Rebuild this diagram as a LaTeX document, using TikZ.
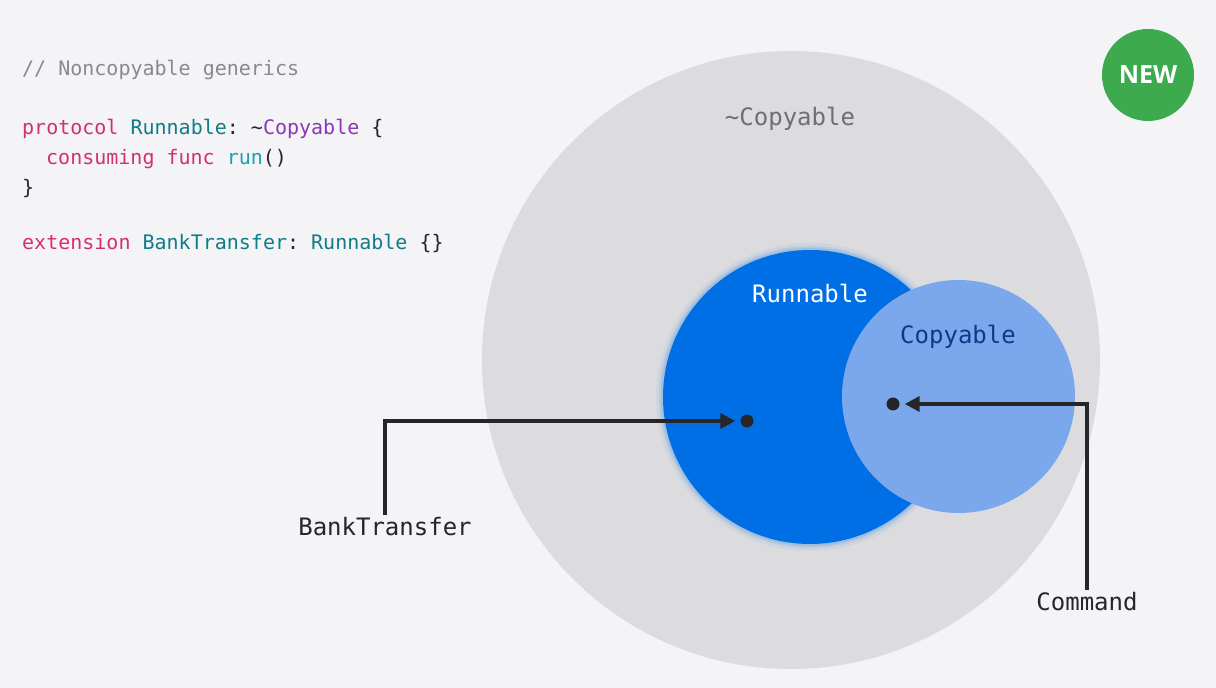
\documentclass[tikz,border=0pt]{standalone}
\usepackage{fontspec}
\setmonofont{DejaVu Sans Mono}
\setsansfont{Open Sans}
\usetikzlibrary{arrows.meta,positioning}
\newcommand{\slidewidth}{1216pt}
\newcommand{\slideheight}{688pt}
\definecolor{slidebg}{HTML}{F4F4F6}
\definecolor{setgray}{HTML}{DCDCDE}
\definecolor{runblue}{HTML}{006FE6}
\definecolor{copyblue}{HTML}{7BA8EC}
\definecolor{copynavy}{HTML}{0B3A8A}
\definecolor{labelgray}{HTML}{6E6E73}
\definecolor{inkcolor}{HTML}{262628}
\definecolor{newgreen}{HTML}{3DAA4D}
\definecolor{kwcolor}{HTML}{D3306E}
\definecolor{typecolor}{HTML}{0E7D88}
\definecolor{protocolcolor}{HTML}{8B36B6}
\definecolor{callcolor}{HTML}{17A0B6}
\definecolor{commentcolor}{HTML}{8A8A8E}

\begin{document}
\begin{tikzpicture}[x=1pt, y=1pt,
  codeline/.style={anchor=base west, inner sep=0pt, font=\ttfamily\fontsize{20}{24}\selectfont\color{inkcolor}},
  setlabel/.style={font=\ttfamily\fontsize{24}{28}\selectfont, inner sep=2pt},
  venn/.style={circle, inner sep=0pt},
  dotmark/.style={circle, fill=inkcolor, inner sep=0pt, minimum size=13pt},
  pointer/.style={draw=inkcolor, line width=3.5pt, -{Triangle[length=15pt, width=15pt]}, shorten >=5pt}]
  \fill[slidebg] (0,0) rectangle (\slidewidth, \slideheight);

  % === CODE ===
  \node[codeline] (comment) at (22, 612) {\textcolor{commentcolor}{// Noncopyable generics}};
  \node[codeline] (protoline) at (22, 553) {%
    \textcolor{kwcolor}{protocol} \textcolor{typecolor}{Runnable}: \textasciitilde\textcolor{protocolcolor}{Copyable} \{};
  \node[codeline] (funcline) at (46, 523) {%
    \textcolor{kwcolor}{consuming} \textcolor{kwcolor}{func} \textcolor{callcolor}{run}()};
  \node[codeline] (closeline) at (22, 493) {\}};
  \node[codeline] (extline) at (22, 438) {%
    \textcolor{kwcolor}{extension} \textcolor{typecolor}{BankTransfer}: \textcolor{typecolor}{Runnable} \{\}};

  % === SETS ===
  \node[venn, fill=setgray, minimum size=618pt] (noncopy) at (791, 328) {};
  \foreach \r/\o in {154/0.06, 151/0.10, 149/0.14}
    \fill[runblue, opacity=\o] (810, 291) circle (\r);
  \node[venn, fill=runblue, minimum size=294pt] (runnable) at (810, 291) {};
  \node[venn, fill=copyblue, minimum size=233pt] (copyable) at (958.5, 291.5) {};

  \node[setlabel, text=labelgray] (noncopylabel) at (790, 569) {\textasciitilde Copyable};
  \node[setlabel, text=white] (runlabel) at (810, 395) {Runnable};
  \node[setlabel, text=copynavy] (copylabel) at (958, 351) {Copyable};

  % members
  \node[dotmark] (rundot) at (747, 267) {};
  \node[dotmark] (copydot) at (893, 284) {};

  \node[setlabel, text=inkcolor] (bank) at (385, 161) {BankTransfer};
  \node[setlabel, text=inkcolor] (command) at (1087, 86) {Command};

  \draw[pointer] ([yshift=1pt]bank.north) |- (rundot.west);
  \draw[pointer] ([yshift=1pt]command.north) |- (copydot.east);

  % === BADGE ===
  \node[circle, fill=newgreen, minimum size=92pt, inner sep=0pt,
    font=\sffamily\bfseries\fontsize{25}{28}\selectfont, text=white] (badge) at (1148, 613) {NEW};
\end{tikzpicture}
\end{document}
